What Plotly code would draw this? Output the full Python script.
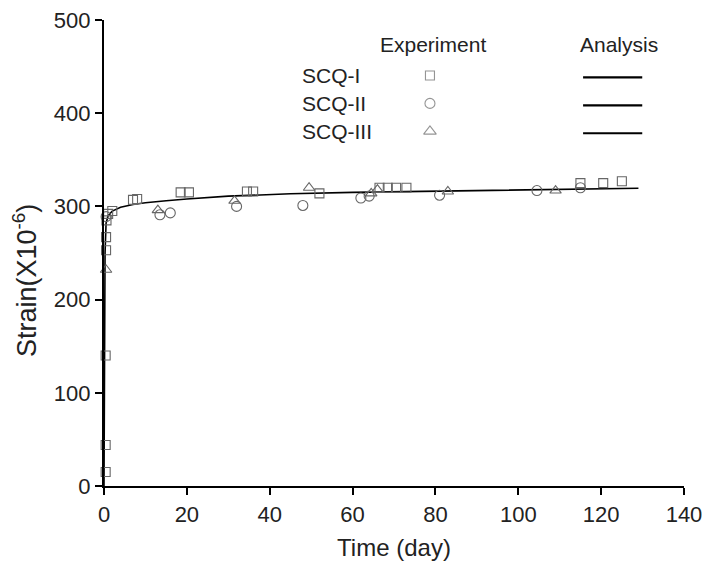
import plotly.graph_objects as go

# Measured creep strain (x10^-6) versus time (day)
scq1_day = [0.4, 0.4, 0.4, 0.5, 0.5, 0.6, 1.0, 2.0, 7.0, 8.0, 18.5, 20.5, 34.5, 36.0,
            52.0, 66.5, 68.5, 70.5, 73.0, 115.0, 120.5, 125.0]
scq1_strain = [15, 44, 140, 253, 267, 285, 292, 295, 307, 308, 315, 315, 316, 316,
               314, 320, 320, 320, 320, 325, 325, 327]

scq2_day = [0.5, 13.5, 16.0, 32.0, 48.0, 62.0, 64.0, 81.0, 104.5, 115.0]
scq2_strain = [289, 291, 293, 300, 301, 309, 311, 312, 317, 320]

scq3_day = [0.5, 13.0, 31.5, 49.5, 64.5, 66.0, 83.0, 109.0]
scq3_strain = [232, 296, 306, 320, 314, 318, 316, 317]

# Analysis curve
fit_day = [0, 0.1, 0.25, 0.5, 1, 2, 4, 7, 10, 15, 20, 30, 45, 60, 86, 110, 129]
fit_strain = [0, 150, 250, 282, 290, 295, 299, 302, 304, 306, 308, 311, 313.5,
              315, 317, 318.5, 319.5]

series_names = ["SCQ-I", "SCQ-II", "SCQ-III"]
series_symbols = ["square-open", "circle-open", "triangle-up-open"]

x_ticks = [0, 20, 40, 60, 80, 100, 120, 140]
y_ticks = [0, 100, 200, 300, 400, 500]

FONT = "Liberation Sans, Arial, sans-serif"
MARK = "#666666"
TEXT = "#222222"

fig = go.Figure()

fig.add_trace(go.Scatter(x=fit_day, y=fit_strain, mode="lines",
                         line=dict(color="black", width=1.6), showlegend=False))

for days, vals, sym, size in [(scq1_day, scq1_strain, series_symbols[0], 9),
                              (scq2_day, scq2_strain, series_symbols[1], 10),
                              (scq3_day, scq3_strain, series_symbols[2], 10)]:
    fig.add_trace(go.Scatter(x=days, y=vals, mode="markers",
                             marker=dict(symbol=sym, size=size, color=MARK,
                                         line=dict(color=MARK, width=1.1)),
                             showlegend=False, cliponaxis=False))

# Hand-built key: names, symbols and analysis lines on an overlay axis in [0, 1]
row_y = [0.881, 0.821, 0.761]
key_marker_x = 0.562
fig.add_trace(go.Scatter(x=[key_marker_x] * 3, y=row_y, mode="markers",
                         xaxis="x2", yaxis="y2",
                         marker=dict(symbol=series_symbols, size=[9, 10, 11], color=MARK,
                                     line=dict(color=MARK, width=1.1)),
                         showlegend=False, hoverinfo="skip"))

annotations = [
    dict(x=0.567, y=0.947, xref="paper", yref="paper", text="Experiment",
         showarrow=False, xanchor="center", yanchor="middle",
         font=dict(family=FONT, size=21, color=TEXT)),
    dict(x=0.888, y=0.947, xref="paper", yref="paper", text="Analysis",
         showarrow=False, xanchor="center", yanchor="middle",
         font=dict(family=FONT, size=21, color=TEXT)),
    # vertical axis title, set as a rotated label
    dict(x=-0.136, y=0.44, xref="paper", yref="paper",
         text="Strain(X10<sup>-6</sup>)", textangle=-90, showarrow=False,
         xanchor="center", yanchor="middle",
         font=dict(family=FONT, size=27, color=TEXT)),
]
for name, ry in zip(series_names, row_y):
    annotations.append(dict(x=0.338, y=ry, xref="paper", yref="paper", text=name,
                            showarrow=False, xanchor="left", yanchor="middle",
                            font=dict(family=FONT, size=21, color=TEXT)))

shapes = []
for ry in row_y:
    shapes.append(dict(type="line", xref="paper", yref="paper",
                       x0=0.817 + 0.009, x1=0.919 + 0.009, y0=ry - 0.004, y1=ry - 0.004,
                       line=dict(color="black", width=2.2)))

fig.update_layout(
    width=709, height=572,
    margin=dict(l=104, r=25, t=20, b=86, autoexpand=False),
    paper_bgcolor="white", plot_bgcolor="white",
    font=dict(family=FONT, color=TEXT),
    annotations=annotations, shapes=shapes,
    xaxis=dict(range=[0, 140], tickvals=x_ticks, ticks="outside", ticklen=7,
               tickwidth=2.4, tickcolor="black", showline=True, linecolor="black",
               linewidth=2.4, showgrid=False, zeroline=False, automargin=False,
               tickfont=dict(family=FONT, size=22, color=TEXT),
               title=dict(text="Time (day)", standoff=14,
                          font=dict(family=FONT, size=24, color=TEXT))),
    yaxis=dict(range=[0, 500], tickvals=y_ticks, ticks="outside", ticklen=7,
               tickwidth=2.4, tickcolor="black", showline=True, linecolor="black",
               linewidth=2.4, showgrid=False, zeroline=False, automargin=False,
               tickfont=dict(family=FONT, size=22, color=TEXT)),
    xaxis2=dict(range=[0, 1], overlaying="x", visible=False, fixedrange=True),
    yaxis2=dict(range=[0, 1], overlaying="y", visible=False, fixedrange=True),
)

fig.write_html("out.html")
